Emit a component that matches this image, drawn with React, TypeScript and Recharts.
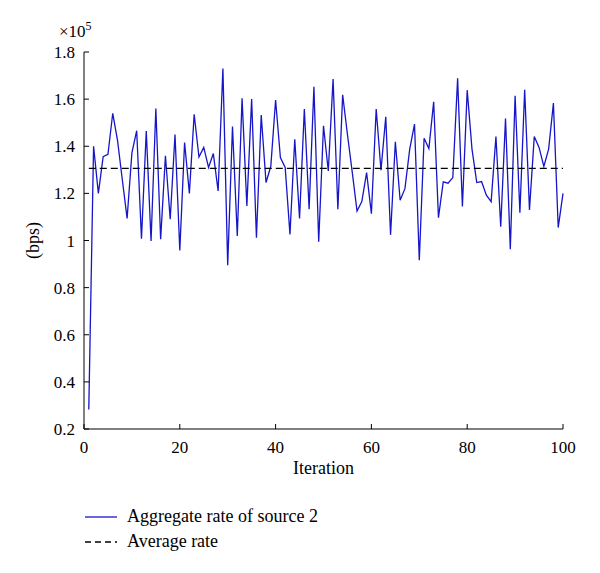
import { LineChart, Line, XAxis, YAxis, ReferenceLine, Legend, Label } from 'recharts';

// aggregate rate of source 2, in bps, one value per iteration (1..100)
const RATE = [
  28300, 140000, 120000, 135600, 136600, 154000, 142500, 125800, 109400, 137200,
  146600, 100800, 146500, 99800, 156000, 100500, 136000, 109000, 145000, 95800,
  141600, 120000, 153600, 135400, 139500, 131000, 136900, 121000, 173000, 89500,
  148400, 101900, 160400, 114700, 160000, 101200, 153200, 124600, 131500, 159600,
  135200, 131000, 102600, 143000, 109400, 155800, 113300, 165200, 99500, 148700,
  129500, 168500, 113300, 161800, 145000, 129000, 112500, 116500, 128800, 111400,
  155800, 129800, 152500, 102400, 141900, 117100, 122000, 138800, 149400, 91600,
  143400, 139000, 158900, 109700, 124900, 124300, 126700, 168800, 114400, 163800,
  138800, 124600, 125000, 119200, 116500, 144100, 105900, 151800, 96300, 161400,
  111800, 164000, 113000, 144100, 139500, 131400, 138800, 158300, 105500, 120000,
];
const AVERAGE_RATE = 130600;

const X_TICKS = [0, 20, 40, 60, 80, 100];
const Y_TICKS = [20000, 40000, 60000, 80000, 100000, 120000, 140000, 160000, 180000];

const SERIES_NAME = 'Aggregate rate of source 2';
const AVERAGE_NAME = 'Average rate';

const FONT = "'Liberation Serif', 'Times New Roman', serif";
const BLUE = '#1616c8';

const data = RATE.map((rate, i) => ({ iteration: i + 1, rate }));

const tickStyle = { fill: '#000', fontSize: 17, fontFamily: FONT };

function YTitle({ viewBox }: any) {
  const x = viewBox.x - 1;
  const y = viewBox.y + viewBox.height / 2;
  return (
    <text
      x={x}
      y={y}
      transform={`rotate(-90 ${x} ${y})`}
      textAnchor="middle"
      dominantBaseline="central"
      fontFamily={FONT}
      fontSize={18}
      fill="#000"
    >
      (bps)
    </text>
  );
}

function Exponent({ viewBox }: any) {
  const x = viewBox.x + viewBox.width - 25;
  const y = viewBox.y - 15;
  return (
    <text x={x} y={y} fontFamily={FONT} fontSize={17} fill="#000">
      ×10
      <tspan dy={-7.5} fontSize={12}>
        5
      </tspan>
    </text>
  );
}

function LegendBox() {
  const rows = [
    { name: SERIES_NAME, color: BLUE, dash: undefined },
    { name: AVERAGE_NAME, color: '#000', dash: '6 4' },
  ];
  return (
    <div style={{ fontFamily: FONT, fontSize: 18, color: '#000' }}>
      {rows.map((r) => (
        <div key={r.name} style={{ display: 'flex', alignItems: 'center', height: 25 }}>
          <svg width={32} height={10} style={{ marginRight: 10 }}>
            <line x1={0} y1={5} x2={32} y2={5} stroke={r.color} strokeWidth={1.3} strokeDasharray={r.dash} />
          </svg>
          <span>{r.name}</span>
        </div>
      ))}
    </div>
  );
}

export default function App() {
  return (
    <div style={{ position: 'absolute', left: 0, top: 0, width: 600, height: 573, background: '#fff' }}>
      <LineChart
        width={600}
        height={573}
        data={data}
        margin={{ top: 52, right: 37, bottom: 94, left: 34 }}
        style={{ fontFamily: FONT }}
      >
        {/* negative tick size: ticks point into the plot, MATLAB style */}
        <XAxis
          xAxisId="b"
          dataKey="iteration"
          type="number"
          domain={[0, 100]}
          ticks={X_TICKS}
          tickSize={-5}
          tickMargin={17}
          tickLine={{ stroke: '#000' }}
          tick={tickStyle}
          axisLine={{ stroke: '#000' }}
          height={50}
        >
          <Label value="Iteration" position="insideBottom" offset={5} fill="#000" fontSize={18} fontFamily={FONT} />
        </XAxis>
        <XAxis
          xAxisId="t"
          dataKey="iteration"
          type="number"
          domain={[0, 100]}
          ticks={X_TICKS}
          orientation="top"
          height={0}
          tick={false}
          tickSize={-5}
          tickLine={{ stroke: '#000' }}
          axisLine={{ stroke: '#000' }}
        />
        <YAxis
          yAxisId="l"
          type="number"
          domain={[20000, 180000]}
          ticks={Y_TICKS}
          tickFormatter={(v: number) => String(+(v / 1e5).toFixed(1))}
          tickSize={-5}
          tickMargin={14}
          tickLine={{ stroke: '#000' }}
          tick={tickStyle}
          axisLine={{ stroke: '#000' }}
          width={50}
        >
          <Label content={YTitle} />
          <Label content={Exponent} />
        </YAxis>
        <YAxis
          yAxisId="r"
          type="number"
          domain={[20000, 180000]}
          ticks={Y_TICKS}
          orientation="right"
          width={0}
          tick={false}
          tickSize={-5}
          tickLine={{ stroke: '#000' }}
          axisLine={{ stroke: '#000' }}
        />
        {/* invisible copy that ties the frame axes to the data */}
        <Line
          xAxisId="t"
          yAxisId="r"
          dataKey="rate"
          stroke="none"
          dot={false}
          activeDot={false}
          legendType="none"
          isAnimationActive={false}
        />
        <Line
          xAxisId="b"
          yAxisId="l"
          type="linear"
          dataKey="rate"
          name={SERIES_NAME}
          stroke={BLUE}
          strokeWidth={1.3}
          dot={false}
          isAnimationActive={false}
        />
        <ReferenceLine
          xAxisId="b"
          yAxisId="l"
          segment={[
            { x: 1, y: AVERAGE_RATE },
            { x: 100, y: AVERAGE_RATE },
          ]}
          stroke="#000"
          strokeWidth={1.2}
          strokeDasharray="7 4"
        />
        <Legend
          layout="vertical"
          align="center"
          verticalAlign="middle"
          wrapperStyle={{ left: 85, top: 504, width: 320 }}
          content={() => <LegendBox />}
        />
      </LineChart>
    </div>
  );
}
